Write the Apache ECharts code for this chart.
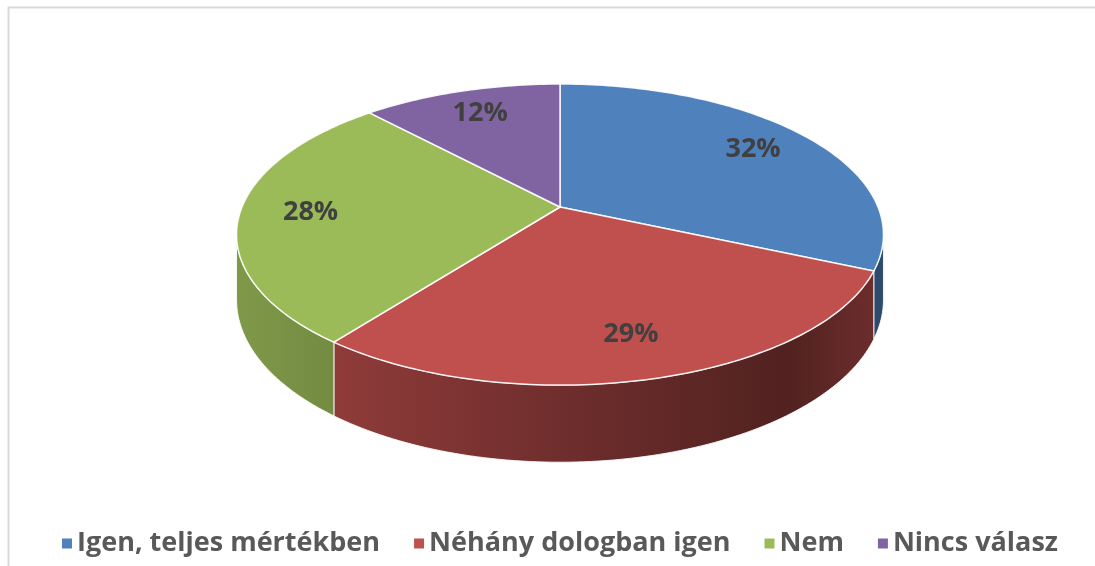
<!DOCTYPE html>
<html>
<head>
<meta charset="utf-8">
<script src="https://cdn.jsdelivr.net/npm/echarts@6/dist/echarts.min.js"></script>
<style>
  html, body { margin: 0; padding: 0; background: #fff; }
  #chart { width: 1095px; height: 566px; }
</style>
</head>
<body>
<div id="chart"></div>
<script>
const categories = ['Igen, teljes mértékben', 'Néhány dologban igen', 'Nem', 'Nincs válasz'];
const values = [32, 29, 28, 12];
const colors = ['#4F81BD', '#C0504D', '#9BBB59', '#8064A2'];

// perspective pie geometry
const cx = 560, cy = 207;
const rx = 318, ry = 145.5, tilt = 0.183, depth = 63;
const labelR = 0.78;

const total = values.reduce((a, b) => a + b, 0);
const starts = [];
values.reduce((acc, v, i) => { starts[i] = acc; return acc + v; }, 0);

// wall is visible on the front part only
const wallFrom = Math.acos(-tilt);
const wallTo = Math.PI * 2 - wallFrom;

function proj(phi, r, drop) {
  const u = r * Math.sin(phi), v = -r * Math.cos(phi);
  const w = 1 - tilt * v;
  return [cx + rx * u / w, cy + (ry * v + drop * depth) / w];
}

function shade(hex, f) {
  const n = parseInt(hex.slice(1), 16);
  const c = [(n >> 16) & 255, (n >> 8) & 255, n & 255].map(x => Math.round(x * f));
  return 'rgb(' + c.join(',') + ')';
}

function arc(a0, a1, drop) {
  const pts = [];
  const steps = Math.max(2, Math.ceil((a1 - a0) / 0.02));
  for (let s = 0; s <= steps; s++) pts.push(proj(a0 + (a1 - a0) * s / steps, 1, drop));
  return pts;
}

function renderSlice(idx) {
  return function (params, api) {
    const a0 = starts[idx] / total * Math.PI * 2;
    const a1 = (starts[idx] + api.value(0)) / total * Math.PI * 2;
    const color = colors[idx];
    const children = [];
    // side wall
    const w0 = Math.max(a0, wallFrom), w1 = Math.min(a1, wallTo);
    if (w1 > w0) {
      const pts = arc(w0, w1, 0).concat(arc(w0, w1, 1).reverse());
      children.push({
        type: 'polygon',
        shape: { points: pts },
        style: {
          fill: new echarts.graphic.LinearGradient(cx - rx * 1.02, 0, cx + rx * 1.02, 0, [
            { offset: 0, color: shade(color, 0.82) },
            { offset: 0.16, color: shade(color, 0.74) },
            { offset: 0.5, color: shade(color, 0.58) },
            { offset: 0.85, color: shade(color, 0.42) },
            { offset: 1, color: shade(color, 0.58) }
          ], true),
          stroke: 'rgba(255,255,255,0.85)',
          lineWidth: 1
        }
      });
    }
    // top face
    children.push({
      type: 'polygon',
      shape: { points: [[cx, cy]].concat(arc(a0, a1, 0)) },
      style: { fill: color, stroke: 'rgba(255,255,255,0.9)', lineWidth: 1.5 }
    });
    // label
    const pos = proj((a0 + a1) / 2, labelR, 0);
    children.push({
      type: 'text',
      x: pos[0], y: pos[1],
      style: {
        text: api.value(0) + '%',
        fontFamily: 'Open Sans', fontWeight: 'bold', fontSize: 27,
        fill: '#404040', align: 'center', verticalAlign: 'middle'
      }
    });
    return { type: 'group', children };
  };
}

const chart = echarts.init(document.getElementById('chart'));
chart.setOption({
  animation: false,
  graphic: [{
    type: 'rect',
    shape: { x: 8.5, y: 7.5, width: 1200, height: 700 },
    style: { fill: 'none', stroke: '#d9d9d9', lineWidth: 2 },
    silent: true
  }],
  legend: {
    data: categories,
    left: 57, top: 525,
    icon: 'rect', itemWidth: 10, itemHeight: 10, itemGap: 34, itemTextGap: 8,
    textStyle: { fontFamily: 'Open Sans', fontWeight: 'bold', fontSize: 27, color: '#595959' },
    selectedMode: false
  },
  series: categories.map((name, i) => ({
    type: 'custom',
    name,
    coordinateSystem: 'none',
    itemStyle: { color: colors[i] },
    renderItem: renderSlice(i),
    data: [[values[i]]],
    z: i
  }))
});
</script>
</body>
</html>
